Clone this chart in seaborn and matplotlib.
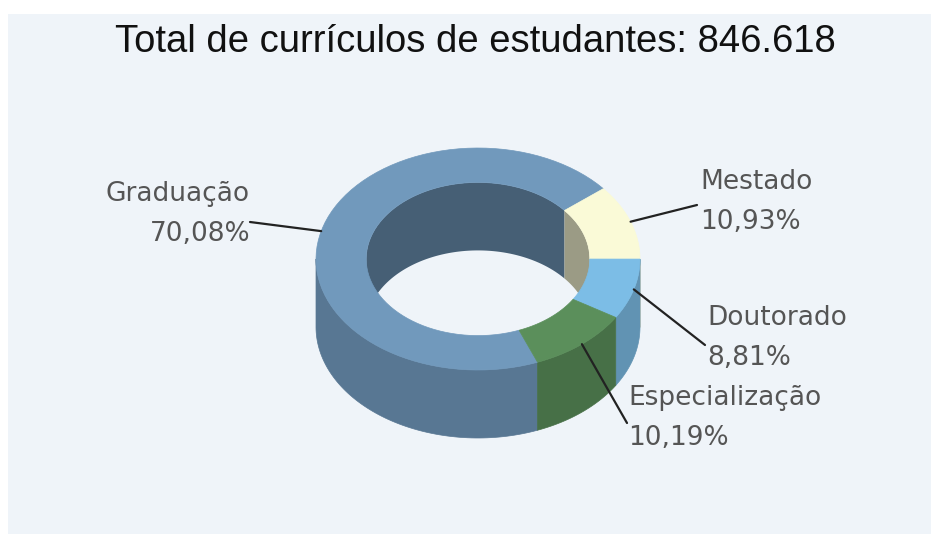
import matplotlib
matplotlib.use("Agg")
import matplotlib.pyplot as plt
from matplotlib.patches import Polygon, Rectangle
import seaborn as sns
import numpy as np

# data
labels = ["Graduação", "Mestado", "Doutorado", "Especialização"]
shares = [70.08, 10.93, 8.81, 10.19]
total = "846.618"
top_colors = ["#7199bc", "#fafad7", "#7cbde6", "#5b8f5b"]

# label layout (pixels)
label_pos = [(250, 181), (700, 169), (707, 305), (628, 385)]
label_ha = ["right", "left", "left", "left"]
line_end = [(250, 222), (697, 205), (705, 345), (627, 423)]

sns.set_theme(style="white")
plt.rcParams["font.family"] = ["DejaVu Sans"]

W, H = 931, 534
fig = plt.figure(figsize=(W / 100, H / 100), dpi=100)
fig.patch.set_facecolor("white")
ax = fig.add_axes([0, 0, 1, 1])
ax.set_xlim(0, W)
ax.set_ylim(H, 0)
ax.axis("off")

ax.add_patch(Rectangle((8, 14), W - 8, H - 14, facecolor="#eff4f9", edgecolor="none", zorder=0))

# donut geometry
cx, cy = 478, 259
rx, ry = 162, 111
inner = 0.69
depth = 68
start = -68.4


def shade(c, f):
    r, g, b = matplotlib.colors.to_rgb(c)
    return (r * f, g * f, b * f)


def arc(t0, t1, k, dy=0, n=80):
    t = np.radians(np.linspace(t0, t1, n))
    return np.column_stack([cx + k * rx * np.cos(t), cy - k * ry * np.sin(t) + dy])


# slice angles, clockwise from start
bounds = []
a = start
for s in shares:
    b = a - s / 100 * 360
    bounds.append((b, a))
    a = b


def clip(lo, hi, wlo, whi):
    # overlap of [lo,hi] with window, trying shifts of 360
    out = []
    for sh in (-720, -360, 0, 360):
        l, h = max(lo + sh, wlo), min(hi + sh, whi)
        if h > l:
            out.append((l, h))
    return out


# inner wall (back half of hole)
for (lo, hi), c in zip(bounds, top_colors):
    for l, h in clip(lo, hi, 0, 180):
        pts = np.vstack([arc(l, h, inner), arc(h, l, inner, depth)])
        ax.add_patch(Polygon(pts, closed=True, facecolor=shade(c, 0.62), edgecolor="none", zorder=1))

# outer side (front half)
for (lo, hi), c in zip(bounds, top_colors):
    for l, h in clip(lo, hi, -180, 0):
        pts = np.vstack([arc(l, h, 1), arc(h, l, 1, depth)])
        ax.add_patch(Polygon(pts, closed=True, facecolor=shade(c, 0.78), edgecolor=shade(c, 0.78),
                             linewidth=0.5, zorder=2))

# top face
for (lo, hi), c in zip(bounds, top_colors):
    pts = np.vstack([arc(lo, hi, 1), arc(hi, lo, inner)])
    ax.add_patch(Polygon(pts, closed=True, facecolor=c, edgecolor=c, linewidth=0.5, zorder=3))

# labels and leader lines
for (lo, hi), name, s, pos, ha, end in zip(bounds, labels, shares, label_pos, label_ha, line_end):
    mid = np.radians((lo + hi) / 2)
    px, py = cx + rx * np.cos(mid), cy - ry * np.sin(mid)
    ax.plot([px, end[0]], [py, end[1]], color="#222222", linewidth=1.6, zorder=4)
    txt = f"{name}\n{s:.2f}%".replace(".", ",")
    ax.text(pos[0], pos[1], txt, ha=ha, va="top", multialignment=ha, fontsize=19,
            color="#555555", linespacing=1.72, zorder=5)

fig.text(475 / W, 1 - 42 / H, f"Total de currículos de estudantes: {total}", ha="center", va="center",
         fontsize=27.5, color="#111111", family=["Liberation Sans", "DejaVu Sans"])

fig.savefig("out.png", dpi=100)
